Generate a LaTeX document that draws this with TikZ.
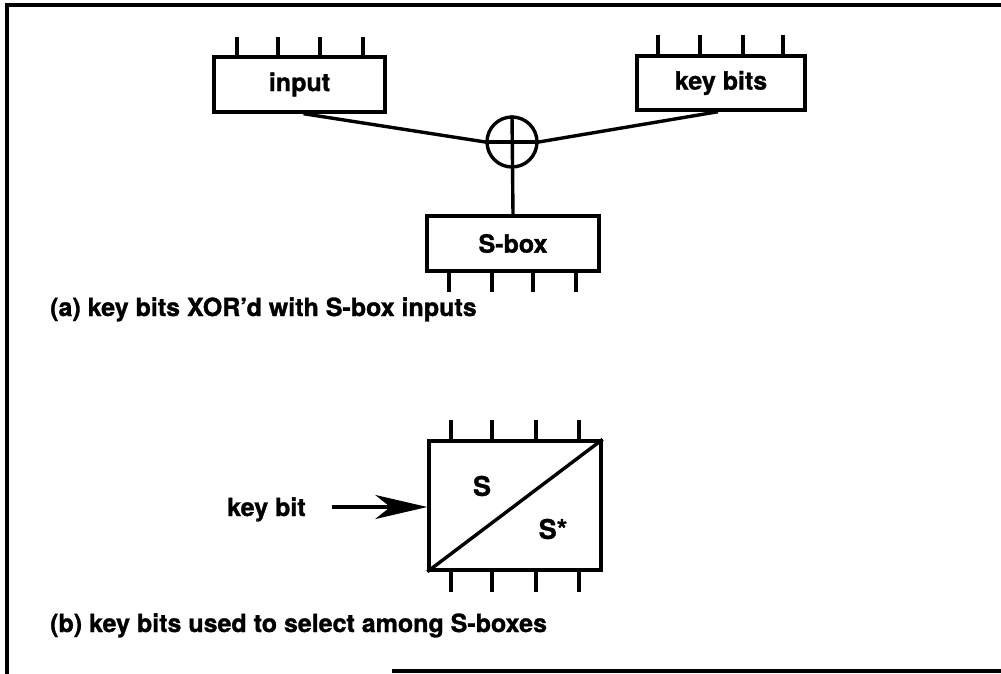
\documentclass[tikz,border=0pt]{standalone}
\usepackage{fontspec}
\setmainfont{TeX Gyre Heros}[BoldFeatures={FakeBold=1.2}]
\usetikzlibrary{arrows.meta,calc}
\begin{document}
\begin{tikzpicture}[x=1pt,y=-1pt,
  lw/.style={line width=3.4pt},
  blk/.style={draw,lw,rectangle,inner sep=0pt,font=\bfseries\fontsize{25}{30}\selectfont},
  lbl/.style={inner sep=0pt,font=\bfseries\fontsize{25}{30}\selectfont},
  big/.style={inner sep=0pt,font=\bfseries\fontsize{27}{32}\selectfont},
  tick/.style={lw}]
\useasboundingbox (0,0) rectangle (1001,674);
% frame (cropped border)
\draw[lw] (7,674) -- (7,5) -- (1001,5);
\draw[lw] (392,671) -- (1001,671);
% (a)
\node[blk,minimum width=171pt,minimum height=55pt] (in) at (299.5,84.5) {input};
\node[blk,minimum width=168pt,minimum height=54pt] (kb) at (721,83) {key bits};
\node[blk,minimum width=172pt,minimum height=55pt] (sb) at (513,243.5) {S-box};
\node[draw,lw,circle,minimum size=50pt,inner sep=0pt] (xor) at (512,142) {};
\foreach \x in {237,278,320,363} \draw[tick] (\x,37) -- (\x,57);
\foreach \x in {658,700,743,783} \draw[tick] (\x,35) -- (\x,56);
\foreach \x in {449,492,533,576} \draw[tick] (\x,271) -- (\x,292);
\draw[lw] ([xshift=4pt]in.south) -- (xor.west);
\draw[lw] ([xshift=-3pt]kb.south) -- (xor.east);
\draw[lw] (xor.west) -- (xor.east);
\draw[lw] (xor.north) -- (sb.north);
\node[lbl,anchor=base west] (capa) at (50,316) {(a) key bits XOR’d with S-box inputs};
% (b)
\node[blk,minimum width=172pt,minimum height=129pt] (lb) at (515,505.5) {};
\draw[lw] (lb.south west) -- (lb.north east);
\foreach \x in {451,492,536,579} {\draw[tick] (\x,420) -- (\x,441); \draw[tick] (\x,570) -- (\x,592);}
\node[big] (s) at (482,486) {S};
\node[big] (sstar) at (553,529) {S*};
\node[lbl,anchor=base west] (kbit) at (227,516) {key bit};
\coordinate (astart) at (332,507);
\draw[lw,-{Stealth[length=52pt,width=24pt,inset=15pt]}] (astart) -- (lb.west |- astart);
\node[lbl,anchor=base west] (capb) at (50,632) {(b) key bits used to select among S-boxes};
\end{tikzpicture}
\end{document}
